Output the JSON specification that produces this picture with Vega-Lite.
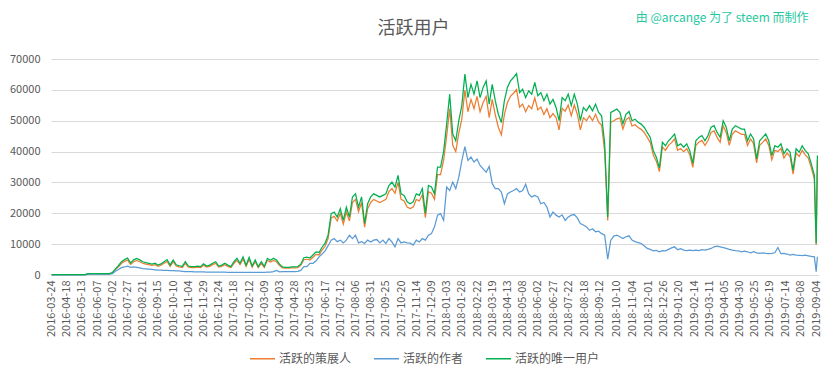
{
  "$schema": "https://vega.github.io/schema/vega-lite/v6.json",
  "width": 767,
  "height": 216,
  "autosize": {"type": "none"},
  "padding": {"left": 51, "top": 59, "right": 15, "bottom": 104},
  "background": "white",
  "config": {
    "font": "Noto Sans CJK SC",
    "view": {"stroke": null}
  },
  "title": {
    "text": "活跃用户",
    "fontSize": 18,
    "fontWeight": "normal",
    "color": "#595959",
    "anchor": "middle",
    "dx": -21,
    "offset": -27
  },
  "data": {
    "values": [
      {"d":"2016-03-24","c":100,"a":80,"u":120},
      {"d":"2016-03-29","c":100,"a":80,"u":120},
      {"d":"2016-04-03","c":100,"a":80,"u":120},
      {"d":"2016-04-08","c":100,"a":80,"u":120},
      {"d":"2016-04-13","c":100,"a":80,"u":120},
      {"d":"2016-04-18","c":100,"a":80,"u":120},
      {"d":"2016-04-23","c":100,"a":80,"u":120},
      {"d":"2016-04-28","c":100,"a":80,"u":120},
      {"d":"2016-05-03","c":100,"a":80,"u":120},
      {"d":"2016-05-08","c":100,"a":80,"u":120},
      {"d":"2016-05-13","c":100,"a":80,"u":120},
      {"d":"2016-05-18","c":100,"a":80,"u":120},
      {"d":"2016-05-23","c":380,"a":300,"u":450},
      {"d":"2016-05-28","c":380,"a":300,"u":450},
      {"d":"2016-06-02","c":380,"a":300,"u":450},
      {"d":"2016-06-07","c":380,"a":300,"u":450},
      {"d":"2016-06-12","c":380,"a":300,"u":450},
      {"d":"2016-06-17","c":380,"a":300,"u":450},
      {"d":"2016-06-22","c":380,"a":300,"u":450},
      {"d":"2016-06-27","c":380,"a":300,"u":450},
      {"d":"2016-07-02","c":680,"a":450,"u":800},
      {"d":"2016-07-07","c":1750,"a":1200,"u":2000},
      {"d":"2016-07-12","c":2650,"a":1800,"u":3000},
      {"d":"2016-07-17","c":3800,"a":2400,"u":4300},
      {"d":"2016-07-22","c":4400,"a":2600,"u":5000},
      {"d":"2016-07-27","c":4850,"a":2900,"u":5500},
      {"d":"2016-08-01","c":3450,"a":2500,"u":3900},
      {"d":"2016-08-06","c":4300,"a":2600,"u":4900},
      {"d":"2016-08-11","c":4750,"a":2500,"u":5400},
      {"d":"2016-08-16","c":4300,"a":2300,"u":4900},
      {"d":"2016-08-21","c":3800,"a":2100,"u":4300},
      {"d":"2016-08-26","c":3500,"a":2000,"u":4000},
      {"d":"2016-08-31","c":3350,"a":1900,"u":3800},
      {"d":"2016-09-05","c":3100,"a":1800,"u":3500},
      {"d":"2016-09-10","c":3350,"a":1700,"u":3800},
      {"d":"2016-09-15","c":2800,"a":1600,"u":3200},
      {"d":"2016-09-20","c":3150,"a":1600,"u":3600},
      {"d":"2016-09-25","c":3800,"a":1500,"u":4300},
      {"d":"2016-09-30","c":4400,"a":1500,"u":5000},
      {"d":"2016-10-05","c":2800,"a":1400,"u":3200},
      {"d":"2016-10-10","c":4300,"a":1400,"u":4900},
      {"d":"2016-10-15","c":2900,"a":1300,"u":3300},
      {"d":"2016-10-20","c":2650,"a":1300,"u":3000},
      {"d":"2016-10-25","c":2450,"a":1200,"u":2800},
      {"d":"2016-10-30","c":3800,"a":1100,"u":4300},
      {"d":"2016-11-04","c":2550,"a":1100,"u":2900},
      {"d":"2016-11-09","c":2400,"a":1100,"u":2700},
      {"d":"2016-11-14","c":2400,"a":1050,"u":2700},
      {"d":"2016-11-19","c":2550,"a":1000,"u":2900},
      {"d":"2016-11-24","c":2400,"a":1000,"u":2700},
      {"d":"2016-11-29","c":3150,"a":1000,"u":3600},
      {"d":"2016-12-04","c":2550,"a":950,"u":2900},
      {"d":"2016-12-09","c":2800,"a":950,"u":3200},
      {"d":"2016-12-14","c":3350,"a":950,"u":3800},
      {"d":"2016-12-19","c":3800,"a":900,"u":4300},
      {"d":"2016-12-24","c":2550,"a":900,"u":2900},
      {"d":"2016-12-29","c":2800,"a":900,"u":3200},
      {"d":"2017-01-03","c":3350,"a":900,"u":3800},
      {"d":"2017-01-08","c":2800,"a":880,"u":3200},
      {"d":"2017-01-13","c":2400,"a":850,"u":2700},
      {"d":"2017-01-18","c":3800,"a":850,"u":4300},
      {"d":"2017-01-23","c":4750,"a":850,"u":5400},
      {"d":"2017-01-28","c":3350,"a":850,"u":3800},
      {"d":"2017-02-02","c":5200,"a":850,"u":5900},
      {"d":"2017-02-07","c":2800,"a":850,"u":3200},
      {"d":"2017-02-12","c":5000,"a":850,"u":5700},
      {"d":"2017-02-17","c":2550,"a":850,"u":2900},
      {"d":"2017-02-22","c":4300,"a":850,"u":4900},
      {"d":"2017-02-27","c":2400,"a":850,"u":2700},
      {"d":"2017-03-04","c":3800,"a":850,"u":4300},
      {"d":"2017-03-09","c":2450,"a":850,"u":2800},
      {"d":"2017-03-14","c":4750,"a":900,"u":5400},
      {"d":"2017-03-19","c":4200,"a":900,"u":4800},
      {"d":"2017-03-24","c":4750,"a":1100,"u":5400},
      {"d":"2017-03-29","c":4300,"a":1500,"u":4900},
      {"d":"2017-04-03","c":3100,"a":1000,"u":3500},
      {"d":"2017-04-08","c":2300,"a":1100,"u":2600},
      {"d":"2017-04-13","c":2200,"a":1100,"u":2500},
      {"d":"2017-04-18","c":2200,"a":1100,"u":2500},
      {"d":"2017-04-23","c":2300,"a":1100,"u":2600},
      {"d":"2017-04-28","c":2300,"a":1100,"u":2600},
      {"d":"2017-05-03","c":2400,"a":1150,"u":2700},
      {"d":"2017-05-08","c":3100,"a":1500,"u":3500},
      {"d":"2017-05-13","c":4950,"a":2700,"u":5600},
      {"d":"2017-05-18","c":5100,"a":2700,"u":5800},
      {"d":"2017-05-23","c":4850,"a":3800,"u":5500},
      {"d":"2017-05-28","c":5750,"a":3800,"u":6500},
      {"d":"2017-06-02","c":6700,"a":4500,"u":7500},
      {"d":"2017-06-07","c":6500,"a":5900,"u":7300},
      {"d":"2017-06-12","c":8100,"a":6800,"u":9000},
      {"d":"2017-06-17","c":9300,"a":7800,"u":10300},
      {"d":"2017-06-22","c":11900,"a":9500,"u":13000},
      {"d":"2017-06-27","c":18500,"a":11300,"u":19900},
      {"d":"2017-07-02","c":19000,"a":11800,"u":20400},
      {"d":"2017-07-07","c":17500,"a":10800,"u":18800},
      {"d":"2017-07-12","c":20000,"a":11300,"u":21500},
      {"d":"2017-07-17","c":16500,"a":10400,"u":17700},
      {"d":"2017-07-22","c":20500,"a":11300,"u":22000},
      {"d":"2017-07-27","c":17500,"a":12900,"u":18800},
      {"d":"2017-08-01","c":23500,"a":11800,"u":25300},
      {"d":"2017-08-06","c":24500,"a":12900,"u":26300},
      {"d":"2017-08-11","c":20500,"a":10400,"u":22000},
      {"d":"2017-08-16","c":23500,"a":10800,"u":25300},
      {"d":"2017-08-21","c":15500,"a":10200,"u":16700},
      {"d":"2017-08-26","c":21500,"a":11300,"u":23100},
      {"d":"2017-08-31","c":23500,"a":10700,"u":25300},
      {"d":"2017-09-05","c":24500,"a":11300,"u":26300},
      {"d":"2017-09-10","c":24000,"a":11500,"u":25800},
      {"d":"2017-09-15","c":23500,"a":10400,"u":25300},
      {"d":"2017-09-20","c":24000,"a":11300,"u":25800},
      {"d":"2017-09-25","c":24500,"a":10200,"u":26300},
      {"d":"2017-09-30","c":27000,"a":11800,"u":29000},
      {"d":"2017-10-05","c":28000,"a":10700,"u":30100},
      {"d":"2017-10-10","c":26500,"a":9100,"u":28500},
      {"d":"2017-10-15","c":30000,"a":11800,"u":32300},
      {"d":"2017-10-20","c":24500,"a":10400,"u":26300},
      {"d":"2017-10-25","c":24000,"a":10700,"u":25800},
      {"d":"2017-10-30","c":22000,"a":10400,"u":23700},
      {"d":"2017-11-04","c":21500,"a":10300,"u":23100},
      {"d":"2017-11-09","c":22000,"a":9700,"u":23700},
      {"d":"2017-11-14","c":24500,"a":11300,"u":26300},
      {"d":"2017-11-19","c":24000,"a":10700,"u":25800},
      {"d":"2017-11-24","c":26000,"a":11800,"u":28000},
      {"d":"2017-11-29","c":18600,"a":11300,"u":20000},
      {"d":"2017-12-04","c":27000,"a":12900,"u":29000},
      {"d":"2017-12-09","c":26500,"a":13400,"u":28500},
      {"d":"2017-12-14","c":24500,"a":15600,"u":26300},
      {"d":"2017-12-19","c":32500,"a":19400,"u":35000},
      {"d":"2017-12-24","c":32500,"a":19900,"u":35000},
      {"d":"2017-12-29","c":37200,"a":17700,"u":40000},
      {"d":"2018-01-03","c":45000,"a":28500,"u":48900},
      {"d":"2018-01-08","c":53900,"a":27400,"u":58600},
      {"d":"2018-01-13","c":42000,"a":30100,"u":45700},
      {"d":"2018-01-18","c":40000,"a":28000,"u":43500},
      {"d":"2018-01-23","c":46000,"a":31700,"u":50000},
      {"d":"2018-01-28","c":50600,"a":37100,"u":55000},
      {"d":"2018-02-02","c":59900,"a":41600,"u":65100},
      {"d":"2018-02-07","c":52900,"a":37100,"u":57500},
      {"d":"2018-02-12","c":56900,"a":38200,"u":61800},
      {"d":"2018-02-17","c":53900,"a":36600,"u":58600},
      {"d":"2018-02-22","c":57900,"a":37600,"u":62900},
      {"d":"2018-02-27","c":52900,"a":35500,"u":57500},
      {"d":"2018-03-04","c":55900,"a":34400,"u":60800},
      {"d":"2018-03-09","c":57900,"a":33300,"u":62900},
      {"d":"2018-03-14","c":51000,"a":35200,"u":55400},
      {"d":"2018-03-19","c":56900,"a":29600,"u":61800},
      {"d":"2018-03-24","c":52000,"a":28000,"u":56500},
      {"d":"2018-03-29","c":47900,"a":28000,"u":52100},
      {"d":"2018-04-03","c":45400,"a":26900,"u":49400},
      {"d":"2018-04-08","c":52000,"a":23100,"u":56500},
      {"d":"2018-04-13","c":55900,"a":26300,"u":60800},
      {"d":"2018-04-18","c":57900,"a":26900,"u":62900},
      {"d":"2018-04-23","c":58900,"a":27400,"u":64000},
      {"d":"2018-04-28","c":60100,"a":28000,"u":65300},
      {"d":"2018-05-03","c":54400,"a":26900,"u":59100},
      {"d":"2018-05-08","c":55400,"a":27400,"u":60200},
      {"d":"2018-05-13","c":52900,"a":29400,"u":57500},
      {"d":"2018-05-18","c":54900,"a":26300,"u":59700},
      {"d":"2018-05-23","c":53900,"a":25300,"u":58600},
      {"d":"2018-05-28","c":57400,"a":25800,"u":62400},
      {"d":"2018-06-02","c":53500,"a":25300,"u":58100},
      {"d":"2018-06-07","c":54400,"a":23100,"u":59100},
      {"d":"2018-06-12","c":52000,"a":23500,"u":56500},
      {"d":"2018-06-17","c":53900,"a":22000,"u":58600},
      {"d":"2018-06-22","c":51000,"a":18800,"u":55400},
      {"d":"2018-06-27","c":52300,"a":20400,"u":56900},
      {"d":"2018-07-02","c":51000,"a":19400,"u":54300},
      {"d":"2018-07-07","c":47000,"a":18800,"u":50000},
      {"d":"2018-07-12","c":54000,"a":19500,"u":57500},
      {"d":"2018-07-17","c":53100,"a":17700,"u":56500},
      {"d":"2018-07-22","c":55100,"a":18800,"u":58600},
      {"d":"2018-07-27","c":51600,"a":19400,"u":54900},
      {"d":"2018-08-01","c":55100,"a":19600,"u":58600},
      {"d":"2018-08-06","c":52100,"a":18500,"u":55400},
      {"d":"2018-08-11","c":47000,"a":16700,"u":50000},
      {"d":"2018-08-16","c":51000,"a":16200,"u":54300},
      {"d":"2018-08-21","c":50000,"a":15600,"u":53200},
      {"d":"2018-08-26","c":51600,"a":14500,"u":54900},
      {"d":"2018-08-31","c":50000,"a":15000,"u":53200},
      {"d":"2018-09-05","c":52100,"a":14000,"u":55400},
      {"d":"2018-09-10","c":49500,"a":14200,"u":52700},
      {"d":"2018-09-15","c":48500,"a":13400,"u":51600},
      {"d":"2018-09-20","c":40000,"a":12900,"u":42500},
      {"d":"2018-09-25","c":17700,"a":5100,"u":18800},
      {"d":"2018-09-30","c":49500,"a":11300,"u":52700},
      {"d":"2018-10-05","c":50000,"a":12600,"u":53200},
      {"d":"2018-10-10","c":50600,"a":12900,"u":53800},
      {"d":"2018-10-15","c":50900,"a":12400,"u":52700},
      {"d":"2018-10-20","c":47300,"a":11800,"u":49000},
      {"d":"2018-10-25","c":50300,"a":12400,"u":52100},
      {"d":"2018-10-30","c":51100,"a":12700,"u":53000},
      {"d":"2018-11-04","c":48300,"a":11300,"u":50000},
      {"d":"2018-11-09","c":48700,"a":10800,"u":50500},
      {"d":"2018-11-14","c":47800,"a":10500,"u":49500},
      {"d":"2018-11-19","c":47200,"a":10200,"u":48900},
      {"d":"2018-11-24","c":46200,"a":9500,"u":47900},
      {"d":"2018-11-29","c":44600,"a":8600,"u":46200},
      {"d":"2018-12-04","c":43000,"a":8300,"u":44600},
      {"d":"2018-12-09","c":38900,"a":7850,"u":40300},
      {"d":"2018-12-14","c":36900,"a":8000,"u":38200},
      {"d":"2018-12-19","c":33500,"a":7530,"u":34700},
      {"d":"2018-12-24","c":41500,"a":7900,"u":43000},
      {"d":"2018-12-29","c":40400,"a":7800,"u":41900},
      {"d":"2019-01-03","c":42000,"a":8300,"u":43500},
      {"d":"2019-01-08","c":42900,"a":8800,"u":44500},
      {"d":"2019-01-13","c":44100,"a":9140,"u":45700},
      {"d":"2019-01-18","c":40400,"a":8200,"u":41900},
      {"d":"2019-01-23","c":41000,"a":8500,"u":42500},
      {"d":"2019-01-28","c":40000,"a":8070,"u":41400},
      {"d":"2019-02-02","c":41000,"a":7900,"u":42500},
      {"d":"2019-02-07","c":38900,"a":8070,"u":40300},
      {"d":"2019-02-12","c":34900,"a":7900,"u":36200},
      {"d":"2019-02-17","c":42000,"a":8070,"u":43500},
      {"d":"2019-02-22","c":43000,"a":7900,"u":44600},
      {"d":"2019-02-27","c":43600,"a":8200,"u":45200},
      {"d":"2019-03-04","c":42000,"a":8070,"u":43500},
      {"d":"2019-03-09","c":43600,"a":8300,"u":45200},
      {"d":"2019-03-14","c":46200,"a":8600,"u":47900},
      {"d":"2019-03-19","c":46700,"a":9140,"u":48400},
      {"d":"2019-03-24","c":44600,"a":9360,"u":46200},
      {"d":"2019-03-29","c":43000,"a":9140,"u":44600},
      {"d":"2019-04-03","c":48300,"a":8900,"u":50000},
      {"d":"2019-04-08","c":46200,"a":8600,"u":47900},
      {"d":"2019-04-13","c":42000,"a":8300,"u":43500},
      {"d":"2019-04-18","c":45600,"a":8070,"u":47300},
      {"d":"2019-04-23","c":46700,"a":7900,"u":48400},
      {"d":"2019-04-28","c":46200,"a":7850,"u":47900},
      {"d":"2019-05-03","c":45600,"a":7530,"u":47300},
      {"d":"2019-05-08","c":45600,"a":7700,"u":47300},
      {"d":"2019-05-13","c":42000,"a":7530,"u":43500},
      {"d":"2019-05-18","c":44100,"a":7200,"u":45700},
      {"d":"2019-05-23","c":42600,"a":7530,"u":44100},
      {"d":"2019-05-28","c":36300,"a":7200,"u":37600},
      {"d":"2019-06-02","c":42000,"a":7000,"u":43500},
      {"d":"2019-06-07","c":43000,"a":7200,"u":44600},
      {"d":"2019-06-12","c":44100,"a":7000,"u":45700},
      {"d":"2019-06-17","c":42000,"a":6900,"u":43500},
      {"d":"2019-06-22","c":37300,"a":7000,"u":38700},
      {"d":"2019-06-27","c":40400,"a":7200,"u":41900},
      {"d":"2019-07-02","c":40000,"a":8900,"u":41400},
      {"d":"2019-07-07","c":41000,"a":6900,"u":42500},
      {"d":"2019-07-12","c":37900,"a":7000,"u":39300},
      {"d":"2019-07-17","c":39500,"a":6800,"u":40900},
      {"d":"2019-07-22","c":38400,"a":6450,"u":39800},
      {"d":"2019-07-27","c":32700,"a":6700,"u":33900},
      {"d":"2019-08-01","c":39500,"a":6450,"u":40900},
      {"d":"2019-08-06","c":38400,"a":6400,"u":39800},
      {"d":"2019-08-11","c":40400,"a":6300,"u":41900},
      {"d":"2019-08-16","c":38900,"a":6400,"u":40300},
      {"d":"2019-08-21","c":37900,"a":6200,"u":39300},
      {"d":"2019-08-26","c":34700,"a":6000,"u":36000},
      {"d":"2019-08-31","c":31200,"a":5900,"u":32300},
      {"d":"2019-09-03","c":9800,"a":1080,"u":10200},
      {"d":"2019-09-05","c":37300,"a":5900,"u":38700}
    ]
  },
  "transform": [
    {"fold": ["c", "a", "u"], "as": ["s", "v"]}
  ],
  "mark": {"type": "line", "strokeWidth": 1.25, "interpolate": "linear"},
  "encoding": {
    "x": {
      "field": "d",
      "type": "temporal",
      "scale": {
        "type": "utc",
        "domain": [
          {"year": 2016, "month": 3, "date": 23, "utc": true},
          {"year": 2019, "month": 9, "date": 6, "utc": true}
        ]
      },
      "axis": {
        "title": null,
        "values": [
          {"year":2016,"month":3,"date":24,"utc":true},
          {"year":2016,"month":4,"date":18,"utc":true},
          {"year":2016,"month":5,"date":13,"utc":true},
          {"year":2016,"month":6,"date":7,"utc":true},
          {"year":2016,"month":7,"date":2,"utc":true},
          {"year":2016,"month":7,"date":27,"utc":true},
          {"year":2016,"month":8,"date":21,"utc":true},
          {"year":2016,"month":9,"date":15,"utc":true},
          {"year":2016,"month":10,"date":10,"utc":true},
          {"year":2016,"month":11,"date":4,"utc":true},
          {"year":2016,"month":11,"date":29,"utc":true},
          {"year":2016,"month":12,"date":24,"utc":true},
          {"year":2017,"month":1,"date":18,"utc":true},
          {"year":2017,"month":2,"date":12,"utc":true},
          {"year":2017,"month":3,"date":9,"utc":true},
          {"year":2017,"month":4,"date":3,"utc":true},
          {"year":2017,"month":4,"date":28,"utc":true},
          {"year":2017,"month":5,"date":23,"utc":true},
          {"year":2017,"month":6,"date":17,"utc":true},
          {"year":2017,"month":7,"date":12,"utc":true},
          {"year":2017,"month":8,"date":6,"utc":true},
          {"year":2017,"month":8,"date":31,"utc":true},
          {"year":2017,"month":9,"date":25,"utc":true},
          {"year":2017,"month":10,"date":20,"utc":true},
          {"year":2017,"month":11,"date":14,"utc":true},
          {"year":2017,"month":12,"date":9,"utc":true},
          {"year":2018,"month":1,"date":3,"utc":true},
          {"year":2018,"month":1,"date":28,"utc":true},
          {"year":2018,"month":2,"date":22,"utc":true},
          {"year":2018,"month":3,"date":19,"utc":true},
          {"year":2018,"month":4,"date":13,"utc":true},
          {"year":2018,"month":5,"date":8,"utc":true},
          {"year":2018,"month":6,"date":2,"utc":true},
          {"year":2018,"month":6,"date":27,"utc":true},
          {"year":2018,"month":7,"date":22,"utc":true},
          {"year":2018,"month":8,"date":18,"utc":true},
          {"year":2018,"month":9,"date":12,"utc":true},
          {"year":2018,"month":10,"date":10,"utc":true},
          {"year":2018,"month":11,"date":4,"utc":true},
          {"year":2018,"month":12,"date":1,"utc":true},
          {"year":2018,"month":12,"date":26,"utc":true},
          {"year":2019,"month":1,"date":20,"utc":true},
          {"year":2019,"month":2,"date":14,"utc":true},
          {"year":2019,"month":3,"date":11,"utc":true},
          {"year":2019,"month":4,"date":5,"utc":true},
          {"year":2019,"month":4,"date":30,"utc":true},
          {"year":2019,"month":5,"date":25,"utc":true},
          {"year":2019,"month":6,"date":19,"utc":true},
          {"year":2019,"month":7,"date":14,"utc":true},
          {"year":2019,"month":8,"date":8,"utc":true},
          {"year":2019,"month":9,"date":4,"utc":true}
        ],
        "labelExpr": "utcFormat(datum.value, '%Y-%m-%d')",
        "labelAngle": 270,
        "labelAlign": "right",
        "labelBaseline": "middle",
        "labelFontSize": 11,
        "labelColor": "#595959",
        "labelPadding": 5,
        "labelOverlap": false,
        "labelFlush": false,
        "labelBound": false,
        "ticks": false,
        "grid": false,
        "domainColor": "#d9d9d9",
        "domainWidth": 1
      }
    },
    "y": {
      "field": "v",
      "type": "quantitative",
      "scale": {"domain": [0, 70000], "nice": false, "zero": true},
      "axis": {
        "values": [0, 10000, 20000, 30000, 40000, 50000, 60000, 70000],
        "format": "d",
        "labelFontSize": 11,
        "labelColor": "#595959",
        "labelPadding": 11,
        "ticks": false,
        "domain": false,
        "grid": true,
        "gridColor": "#d9d9d9",
        "gridWidth": 1,
        "title": "由 @arcange 为了 steem 而制作",
        "titleAngle": 0,
        "titleX": 757,
        "titleY": -42,
        "titleAlign": "right",
        "titleBaseline": "middle",
        "titleFontSize": 12,
        "titleFontWeight": "normal",
        "titleColor": "#1fc8a0"
      }
    },
    "color": {
      "field": "s",
      "type": "nominal",
      "scale": {
        "domain": ["c", "a", "u"],
        "range": ["#ED7D31", "#5B9BD5", "#00B050"]
      },
      "legend": {
        "title": null,
        "orient": "none",
        "direction": "horizontal",
        "legendX": 198,
        "legendY": 286,
        "symbolType": "stroke",
        "symbolSize": 625,
        "symbolStrokeWidth": 1.5,
        "labelFontSize": 12,
        "labelColor": "#595959",
        "labelOffset": 3,
        "columnPadding": 19,
        "labelExpr": "datum.value === 'c' ? '活跃的策展人' : datum.value === 'a' ? '活跃的作者' : '活跃的唯一用户'"
      }
    }
  }
}
